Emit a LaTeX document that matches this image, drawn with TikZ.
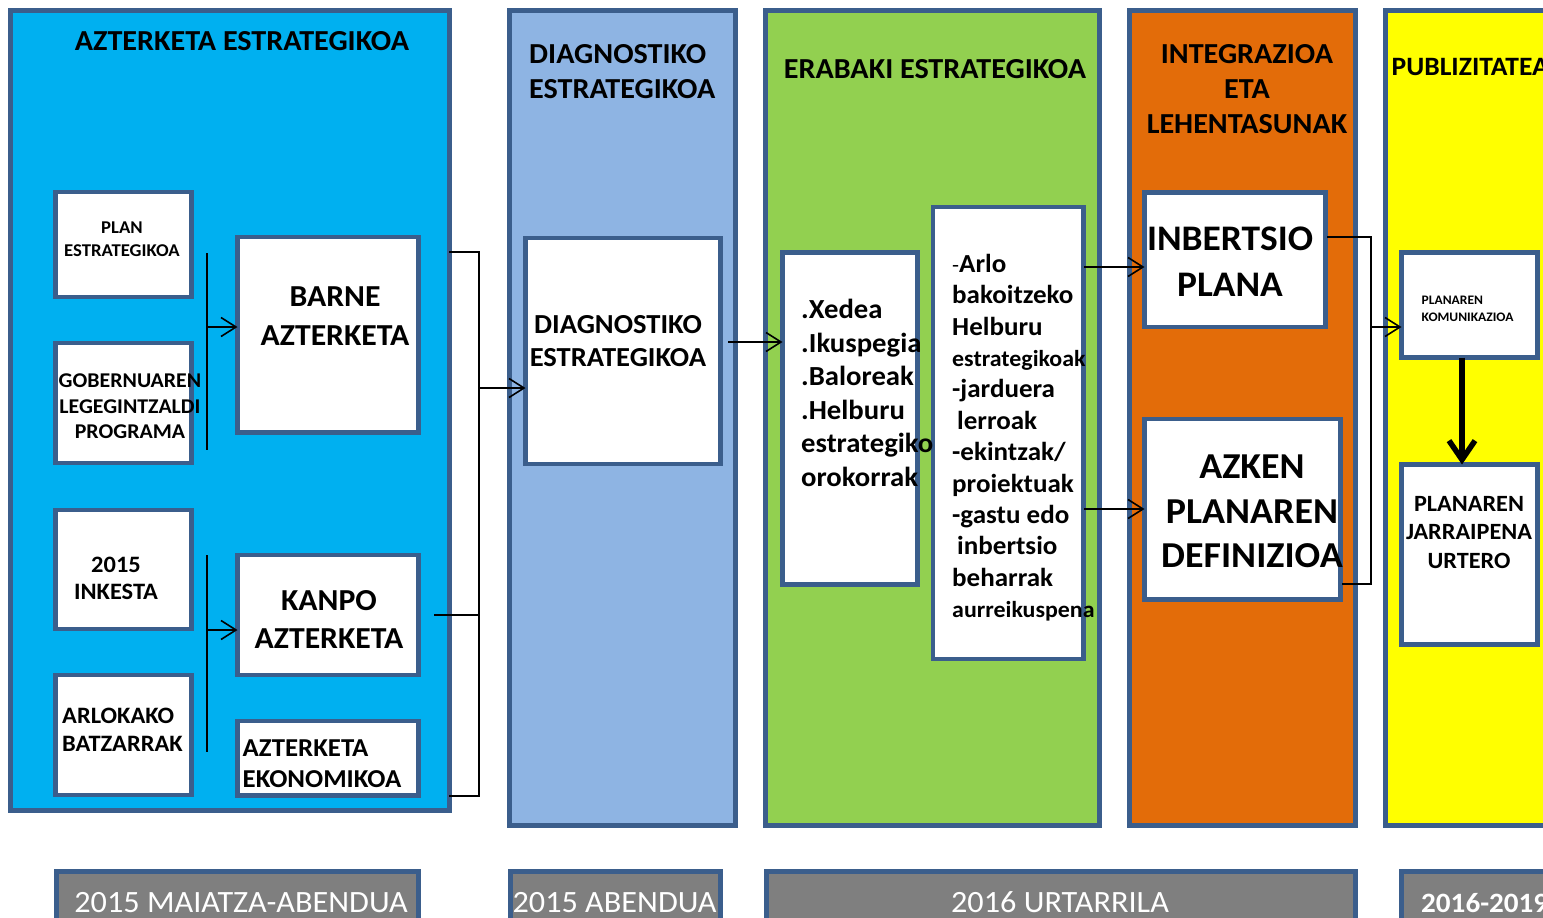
\documentclass[tikz,border=0pt]{standalone}
\usepackage{fontspec}
\setmainfont{Carlito}[FakeStretch=1.04]
\usetikzlibrary{arrows.meta}
\definecolor{bordc}{HTML}{3B5E8C}
\definecolor{pblue}{HTML}{00B0F0}
\definecolor{plight}{HTML}{8EB4E3}
\definecolor{pgreen}{HTML}{92D050}
\definecolor{porange}{HTML}{E36C09}
\definecolor{pyellow}{HTML}{FFFF00}
\definecolor{pgray}{HTML}{7F7F7F}
\newcommand\fs[2]{\fontsize{#1}{#2}\selectfont}
\newcommand\boxat[6]{\node[#6, anchor=north west, minimum width={#4-#2}, minimum height={#5-#3}, inner sep=0pt, outer sep=0pt] (#1) at (#2,#3) {};}
\begin{document}
\begin{tikzpicture}[x=1pt,y=-1pt,
  panel/.style={draw=bordc, line width=5pt},
  box/.style={draw=bordc, line width=4.5pt, fill=white},
  datebox/.style={draw=bordc, line width=5pt, fill=pgray},
  txt/.style={inner sep=0pt, font=\bfseries},
  datetxt/.style={inner sep=0pt, text=white, anchor=base},
  conn/.style={line width=1.6pt},
  arr/.style={conn, -{Straight Barb[length=15pt,width=19pt]}},
  bigarr/.style={line width=5.5pt, -{Straight Barb[length=19pt,width=26pt]}}
]
\useasboundingbox (0,0) rectangle (1543,918);
\clip (0,0) rectangle (1543,918);

% panels
\boxat{P1}{10.5}{10.5}{449.5}{810.5}{panel, fill=pblue}
\boxat{P2}{509}{10.5}{735.5}{825}{panel, fill=plight}
\boxat{P3}{765.5}{10.5}{1099.5}{825}{panel, fill=pgreen}
\boxat{P4}{1129.5}{10.5}{1355.5}{825}{panel, fill=porange}
\boxat{P5}{1385.5}{10.5}{1620}{825}{panel, fill=pyellow}

% date boxes
\boxat{D1}{56.5}{871.5}{418.5}{940}{datebox}
\boxat{D2}{510.5}{871.5}{720.5}{940}{datebox}
\boxat{D3}{766.5}{871.5}{1355.5}{940}{datebox}
\boxat{D4}{1401.5}{871.5}{1620}{940}{datebox}
\node[datetxt, font=\fs{31}{36}] (d1t) at (241,912) {2015 MAIATZA-ABENDUA};
\node[datetxt, font=\fs{31}{36}] (d2t) at (614.5,912) {2015 ABENDUA};
\node[datetxt, font=\fs{31}{36}] (d3t) at (1060,912) {2016 URTARRILA};
\node[datetxt, font=\fs{28}{36}\bfseries, anchor=base west] (d4t) at (1421,912) {2016-2019};

% panel titles
\node[txt, font=\fs{29}{35}\bfseries, anchor=base] (t1) at (242,50) {AZTERKETA ESTRATEGIKOA};
\node[txt, font=\fs{29}{35}\bfseries, anchor=west, align=left] (t2) at (529,71.5) {DIAGNOSTIKO\\ESTRATEGIKOA};
\node[txt, font=\fs{29}{35}\bfseries, anchor=base] (t3) at (935,78) {ERABAKI ESTRATEGIKOA};
\node[txt, font=\fs{29}{35}\bfseries, align=center] (t4) at (1247,89) {INTEGRAZIOA\\ETA\\LEHENTASUNAK};
\node[txt, font=\fs{26.5}{35}\bfseries, anchor=base west] (t5) at (1391.5,75) {PUBLIZITATEA};

% panel 1 boxes
\boxat{PLAN}{55.5}{192}{191.5}{297}{box}
\boxat{GOB}{55.5}{343}{191.5}{463}{box}
\boxat{INK}{55.5}{510}{191.5}{629}{box}
\boxat{ARL}{55.5}{675}{191.5}{795}{box}
\boxat{BARNE}{237.5}{237}{418.5}{432.5}{box}
\boxat{KANPO}{237.5}{555}{418.5}{675}{box}
\boxat{EKON}{237.5}{721}{418.5}{795.5}{box}

\node[txt, font=\fs{18}{23}\bfseries, align=center] (planT) at (122,239.5) {PLAN\\ESTRATEGIKOA};
\node[txt, font=\fs{21}{25.5}\bfseries, align=center] (gobT) at (130,406.5) {GOBERNUAREN\\LEGEGINTZALDI\\PROGRAMA};
\node[txt, font=\fs{23.5}{27}\bfseries, align=center] (inkT) at (116,578.5) {2015\\INKESTA};
\node[txt, font=\fs{23.5}{28}\bfseries, align=left, anchor=west] (arlT) at (62,730) {ARLOKAKO\\BATZARRAK};
\node[txt, font=\fs{30.5}{39}\bfseries, align=center] (barneT) at (335,316.5) {BARNE\\AZTERKETA};
\node[txt, font=\fs{30.5}{38}\bfseries, align=center] (kanpoT) at (329,619.5) {KANPO\\AZTERKETA};
\node[txt, font=\fs{25.8}{31.5}\bfseries, align=left, anchor=west] (ekonT) at (242.5,763.5) {AZTERKETA\\EKONOMIKOA};

% panel 2 box
\boxat{DIAG}{525.5}{238}{720.5}{464}{box}
\node[txt, font=\fs{27.5}{33}\bfseries, align=center] (diagT) at (618,341.5) {DIAGNOSTIKO\\ESTRATEGIKOA};

% panel 3 boxes
\boxat{XED}{782.5}{252.5}{917.5}{584.5}{box}
\boxat{ARLO}{933}{207}{1083.5}{659}{box}
\node[txt, font=\fs{27.6}{33.6}\bfseries, align=left, anchor=west] (xedT) at (801,393) {.Xedea\\.Ikuspegia\\.Baloreak\\.Helburu\\estrategiko\\orokorrak};
\node[txt, font=\fs{26}{31.4}\bfseries, align=left, anchor=west] (arloT) at (952,437.7) {{\mdseries\fs{22}{31.4}-}Arlo\\bakoitzeko\\Helburu\\{\fs{23}{31.4}estrategikoak}\\-jarduera\\\hspace{5pt}lerroak\\-ekintzak/\\proiektuak\\-gastu edo\\\hspace{5pt}inbertsio\\beharrak\\{\fs{23}{31.4}aurreikuspena}};

% panel 4 boxes
\boxat{INB}{1144.5}{192.5}{1325.5}{327}{box}
\boxat{AZK}{1144.5}{419}{1340.5}{599.5}{box}
\node[txt, font=\fs{36}{46}\bfseries, align=center] (inbT) at (1230,262) {INBERTSIO\\PLANA};
\node[txt, font=\fs{36.5}{44.5}\bfseries, align=center] (azkT) at (1252,511.5) {AZKEN\\PLANAREN\\DEFINIZIOA};

% panel 5 boxes
\boxat{KOM}{1401.5}{252.5}{1537.5}{357.5}{box}
\boxat{JAR}{1401.5}{464.5}{1537.5}{644.5}{box}
\node[txt, font=\fs{13}{16.7}\bfseries, align=left, anchor=west] (komT) at (1421.5,309) {PLANAREN\\KOMUNIKAZIOA};
\node[txt, font=\fs{23.3}{28.7}\bfseries, align=center] (jarT) at (1469,532.5) {PLANAREN\\JARRAIPENA\\URTERO};

% connectors panel 1
\coordinate (v1a) at (207,253);
\coordinate (v1b) at (207,450);
\coordinate (v1m) at (207,327);
\draw[conn] (v1a) -- (v1b);
\draw[arr] (v1m) -- (v1m -| BARNE.west);
\coordinate (v2a) at (207,555);
\coordinate (v2b) at (207,752);
\coordinate (v2m) at (207,630);
\draw[conn] (v2a) -- (v2b);
\draw[arr] (v2m) -- (v2m -| KANPO.west);

% bracket to diagnostiko
\coordinate (b1) at (449,252);
\coordinate (b2) at (479,252);
\coordinate (b3) at (479,796);
\coordinate (b4) at (449,796);
\coordinate (b5) at (434,615);
\coordinate (b6) at (479,615);
\coordinate (b7) at (479,388);
\draw[conn] (b1) -- (b2) -- (b3) -- (b4);
\draw[conn] (b5) -- (b6);
\draw[arr] (b7) -- (b7 -| DIAG.west);

% diag -> xedea
\coordinate (c1) at (728,342);
\draw[arr] (c1) -- (c1 -| XED.west);

% arlo -> inbertsio / azken
\coordinate (e1) at (1084,267);
\coordinate (e2) at (1084,509);
\draw[arr] (e1) -- (e1 -| INB.west);
\draw[arr] (e2) -- (e2 -| AZK.west);

% bracket to komunikazioa
\coordinate (f1) at (1327,237);
\coordinate (f2) at (1371,237);
\coordinate (f3) at (1371,584);
\coordinate (f4) at (1342,584);
\coordinate (f5) at (1371,327);
\draw[conn] (f1) -- (f2) -- (f3) -- (f4);
\draw[arr] (f5) -- (f5 -| KOM.west);

% komunikazioa -> jarraipena
\draw[bigarr] ([xshift=-7.5pt]KOM.south) -- ([xshift=-7.5pt]JAR.north);
\end{tikzpicture}
\end{document}
